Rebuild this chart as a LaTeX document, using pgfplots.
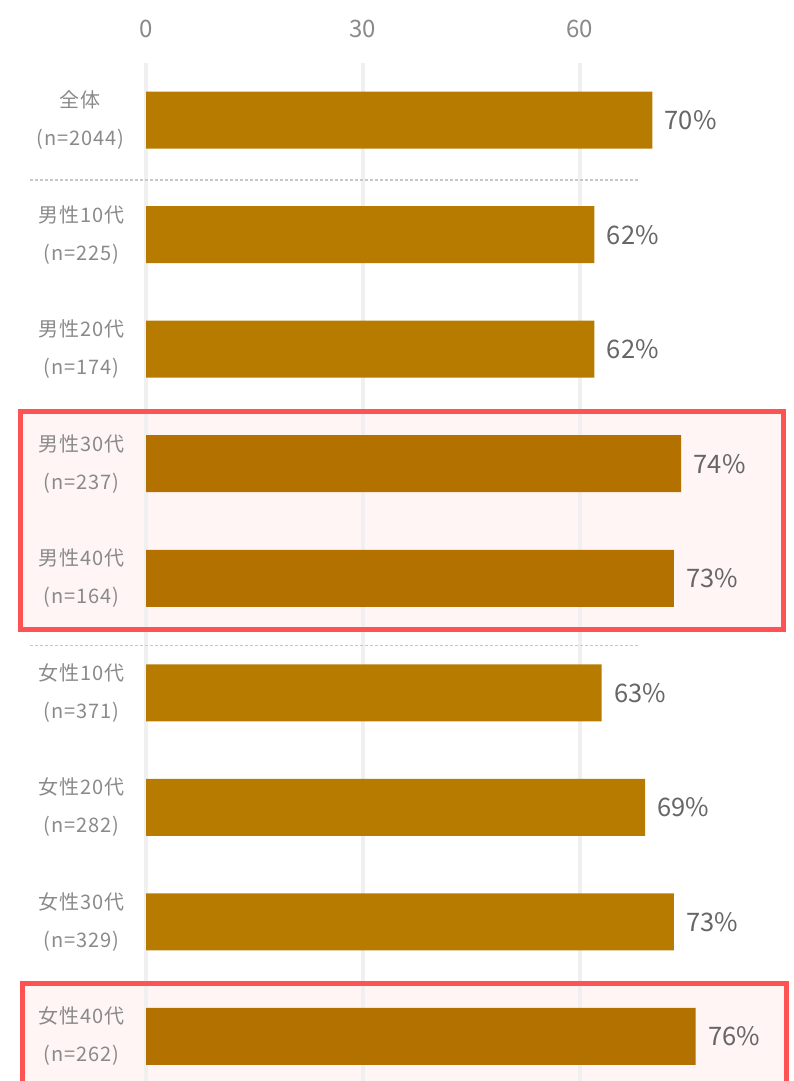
\documentclass[border=0pt]{standalone}
\usepackage{fontspec}
\setmainfont{Noto Sans CJK JP}
\newfontfamily\labfam[LetterSpace=5]{Noto Sans CJK JP}
\usepackage{pgfplots}
\pgfplotsset{compat=1.18}
\definecolor{barnorm}{HTML}{B77B00}
\definecolor{barhi}{HTML}{B37100}
\definecolor{boxred}{HTML}{FF5252}
\definecolor{boxfill}{HTML}{FFF5F5}
\definecolor{gridgray}{HTML}{F0F0F0}
\definecolor{labgray}{HTML}{8A8A8A}
\definecolor{valgray}{HTML}{666666}
\newcommand\labfont{\labfam\fontsize{20}{38}\selectfont}
\newcommand\valfont{\fontsize{25.5}{28}\selectfont}
\newcommand\tickfont{\fontsize{24}{28}\selectfont}

\begin{document}
\begin{tikzpicture}
\begin{axis}[
    set layers,
    at={(146pt,0pt)}, anchor=south west,
    scale only axis, width=648pt, height=1018pt,
    xmin=0, xmax=89.6, ymin=-0.5, ymax=8.39, y dir=reverse,
    xbar, bar width=57pt,
    clip=false,
    axis line style={draw=none}, major tick length=0pt,
    xtick={0,30,60}, xticklabel pos=upper,
    xmajorgrids, grid style={gridgray, line width=4pt},
    ytick={0,...,8},
    yticklabels={{全体\\(n=2044)},{男性10代\\(n=225)},{男性20代\\(n=174)},
        {男性30代\\(n=237)},{男性40代\\(n=164)},{女性10代\\(n=371)},
        {女性20代\\(n=282)},{女性30代\\(n=329)},{女性40代\\(n=262)}},
    yticklabel style={align=center, font=\labfont, text=labgray, xshift=-18pt},
    xticklabel style={font=\tickfont, text=labgray, yshift=22pt},
    /pgf/number format/assume math mode=true,
    point meta=x,
    nodes near coords={\pgfmathprintnumber{\pgfplotspointmeta}\%},
    nodes near coords style={font=\valfont, text=valgray, anchor=west, xshift=9pt},
]
% highlight boxes behind the bars
\begin{pgfonlayer}{axis background}
\fill[boxfill] (axis cs:-17.4,2.54) rectangle (axis cs:88.1,4.445);
\fill[boxfill] (axis cs:-17.1,7.54) rectangle (axis cs:88.6,8.8);
\end{pgfonlayer}
\draw[boxred, line width=5pt] (axis cs:-17.4,2.54) rectangle (axis cs:88.1,4.445);
\draw[boxred, line width=5pt] (axis cs:-17.1,7.54) rectangle (axis cs:88.6,8.8);
% dotted separators
\draw[black!22, line width=1.5pt, dash pattern=on 3pt off 2pt]
    (axis cs:-16,0.524) -- (axis cs:68.3,0.524);
\draw[black!22, line width=1.5pt, dash pattern=on 3pt off 2pt]
    (axis cs:-16,4.585) -- (axis cs:68.3,4.585);

\addplot[fill=barnorm, draw=none, bar shift=0pt] coordinates {
  (70,0) (62,1) (62,2) (63,5) (69,6) (73,7)
};
\addplot[fill=barhi, draw=none, bar shift=0pt] coordinates {
  (74,3) (73,4) (76,8)
};
\end{axis}
\pgfresetboundingbox
\useasboundingbox (0,0) rectangle (794pt,1081pt);
\end{tikzpicture}
\end{document}
